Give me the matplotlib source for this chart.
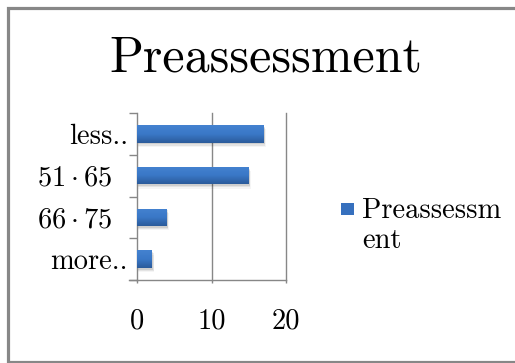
import numpy as np
import matplotlib
matplotlib.use("Agg")
import matplotlib.pyplot as plt
from matplotlib.patches import Rectangle
from matplotlib.lines import Line2D
from matplotlib.colors import LinearSegmentedColormap

plt.rcParams['font.family'] = ['cmr10', 'DejaVu Serif']
plt.rcParams['mathtext.fontset'] = 'cm'
plt.rcParams['axes.unicode_minus'] = False
plt.rcParams['axes.formatter.use_mathtext'] = True

# Score bands (top to bottom) and number of students in each
categories = ["less..", r"$51\cdot65$", r"$66\cdot75$", "more.."]
counts = [17, 15, 4, 2]
series_name = "Preassessm\nent"
title = "Preassessment"
x_ticks = [0, 10, 20]

W, H, DPI = 515, 363, 100
fig = plt.figure(figsize=(W / DPI, H / DPI), dpi=DPI)
grey = "#878787"
label_size = 20.5

# outer frame (left, top and bottom edges; the right edge runs off the canvas)
fx0, fy0, fy1 = 7.5 / W, 1 - 361.5 / H, 1 - 8 / H
fig.lines.append(Line2D([1.0, fx0, fx0, 1.0], [fy1, fy1, fy0, fy0],
                        transform=fig.transFigure, color=grey, lw=2.3,
                        solid_joinstyle="miter"))

ax = fig.add_axes([137 / W, 1 - 280 / H, (286 - 137) / W, (280 - 113) / H])

y = np.arange(len(categories))[::-1]
bar_h = 0.42

# soft drop shadow behind each bar
for yi, v in zip(y, counts):
    for k, a in enumerate([0.09, 0.07, 0.04]):
        off = 0.04 + 0.03 * k
        ax.barh(yi - off, v + 0.12 + 0.1 * k, height=bar_h, left=0,
                color="black", alpha=a, zorder=2, linewidth=0)

bars = ax.barh(y, counts, height=bar_h, color="#3670BE", zorder=3,
               linewidth=0)

# vertical shading on each bar
cmap = LinearSegmentedColormap.from_list("bar", ["#2b5b9b", "#3a78c7", "#4482d0"])
grad = np.linspace(0, 1, 64).reshape(-1, 1)
for b in bars:
    x0, y0 = b.get_x(), b.get_y()
    im = ax.imshow(grad, cmap=cmap, aspect="auto", origin="lower",
                   extent=(x0, x0 + b.get_width(), y0, y0 + b.get_height()),
                   zorder=4)
    im.set_clip_path(b)

ax.set_xlim(0, 20)
ax.set_ylim(-0.5, len(categories) - 0.5)

ax.set_xticks(x_ticks)
ax.set_xticklabels([str(t) for t in x_ticks])
ax.set_yticks(y)
ax.set_yticklabels(categories)
ax.set_yticks(np.arange(-0.5, len(categories)), minor=True)

ax.tick_params(axis="y", which="major", length=0, pad=6.5, labelsize=label_size)
ax.tick_params(axis="y", which="minor", length=6, width=1.0, color=grey,
               direction="out")
ax.tick_params(axis="x", which="major", length=2.5, width=1.0, color=grey,
               direction="out", pad=18, labelsize=label_size)
# the two numeric ranges carry a trailing gap before the axis
for tick, lab in zip(ax.yaxis.get_major_ticks(), categories):
    if lab.startswith("$"):
        tick.set_pad(18)

# vertical gridlines at the x ticks
for t in x_ticks[1:]:
    ax.axvline(t, color=grey, lw=1.0, zorder=1, clip_on=False)

for s in ("top", "right"):
    ax.spines[s].set_visible(False)
for s in ("left", "bottom"):
    ax.spines[s].set_color(grey)
    ax.spines[s].set_linewidth(1.0)
# bottom axis line continues to the left under the boundary tick
ax.plot([-8 / 7.45, 0], [-0.5, -0.5], color=grey, lw=1.0, clip_on=False,
        zorder=5)

fig.text(266 / W, 1 - 72 / H, title, ha="center", va="baseline", fontsize=36)

# legend: swatch beside a wrapped series name
fig.patches.append(Rectangle((341 / W, 1 - 215 / H), 13 / W, 12 / H,
                             transform=fig.transFigure,
                             facecolor="#3670BE", edgecolor="none"))
fig.text(362 / W, 1 - 248 / H, series_name, ha="left", va="baseline",
         fontsize=label_size, linespacing=1.2)

fig.savefig("out.png", dpi=DPI)
